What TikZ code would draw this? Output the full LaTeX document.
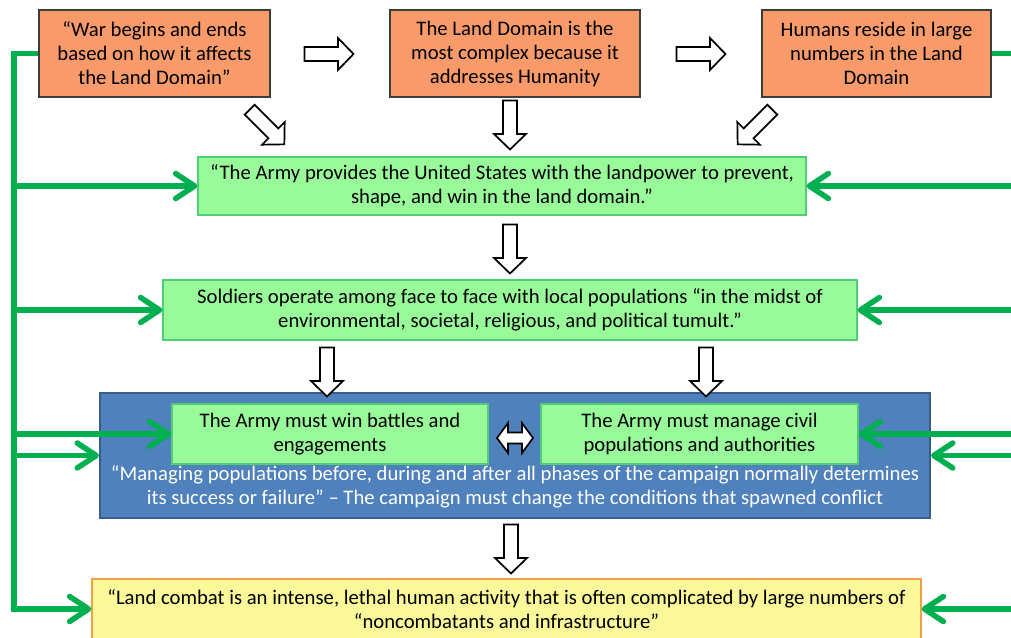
\documentclass[tikz,border=0pt]{standalone}
\usepackage{fontspec}
\setmainfont{Carlito}
\usetikzlibrary{arrows.meta}

\definecolor{orangefill}{RGB}{248,154,106}
\definecolor{orangeline}{RGB}{60,60,60}
\definecolor{greenfill}{RGB}{152,250,152}
\definecolor{greenline}{RGB}{80,205,120}
\definecolor{bluefill}{RGB}{79,129,189}
\definecolor{blueline}{RGB}{56,93,138}
\definecolor{yellowfill}{RGB}{250,248,152}
\definecolor{yellowline}{RGB}{240,160,70}
\definecolor{conngreen}{RGB}{0,176,80}

\tikzset{
  box/.style={rectangle, inner sep=0pt, align=center,
    font=\fontsize{20.7}{24}\selectfont, line width=1.3pt},
  obox/.style={box, fill=orangefill, draw=orangeline, minimum height=87},
  gbox/.style={box, fill=greenfill, draw=greenline},
  conn/.style={draw=conngreen, line width=5.5pt},
  tip/.style={conn, -{Straight Barb[length=19pt,width=25pt,round]}},
  hollow/.style={draw=black, fill=white, line width=1.7pt, line join=miter},
  blockarrow/.pic={
    \draw[hollow] (-24.5,-7) -- (9,-7) -- (9,-16) -- (24.5,0) -- (9,16)
      -- (9,7) -- (-24.5,7) -- cycle;},
  twowayarrow/.pic={
    \draw[hollow] (-18,0) -- (-7,-15) -- (-7,-5.5) -- (7,-5.5) -- (7,-15)
      -- (18,0) -- (7,15) -- (7,5.5) -- (-7,5.5) -- (-7,15) -- cycle;},
}

\begin{document}
\begin{tikzpicture}[x=1pt,y=-1pt]
\useasboundingbox (0,0) rectangle (1011,637);
\clip (0,0) rectangle (1011,637);

% top row: orange statements
\node[obox, minimum width=231] (o1) at (154.5,53.5)
  {“War begins and ends\\based on how it affects\\the Land Domain”};
\node[obox, minimum width=250] (o2) at (515,53.5)
  {The Land Domain is the\\most complex because it\\addresses Humanity};
\node[obox, minimum width=229] (o3) at (876.5,53.5)
  {Humans reside in large\\numbers in the Land\\Domain};

% green statements
\node[gbox, minimum width=608, minimum height=58] (g1) at (502,186)
  {“The Army provides the United States with the landpower to prevent,\\shape, and win in the land domain.”};
\node[gbox, minimum width=694, minimum height=60] (g2) at (510,310)
  {Soldiers operate among face to face with local populations “in the midst of\\environmental, societal, religious, and political tumult.”};

% campaign block
\node[box, fill=bluefill, draw=blueline, line width=2pt,
  minimum width=830, minimum height=125] (blue) at (515,455.5) {};
\node[gbox, minimum width=316, minimum height=60] (gl) at (330,434)
  {The Army must win battles and\\engagements};
\node[gbox, minimum width=317, minimum height=60] (gr) at (699.5,434)
  {The Army must manage civil\\populations and authorities};
\node[box, text=white] (bt) at (515,487)
  {“Managing populations before, during and after all phases of the campaign normally determines\\its success or failure” -- The campaign must change the conditions that spawned conflict};

% bottom statement
\node[box, fill=yellowfill, draw=yellowline, minimum width=829, minimum height=60] (yl) at (506.5,609)
  {“Land combat is an intense, lethal human activity that is often complicated by large numbers of\\“noncombatants and infrastructure”};

% hollow block arrows
\pic at (329,54) {blockarrow};
\pic at (701,54) {blockarrow};
\pic[rotate=-45] at (267,127) {blockarrow};
\pic[rotate=-90] at (510,125) {blockarrow};
\pic[rotate=-135] at (755,127) {blockarrow};
\pic[rotate=-90] at (510,249) {blockarrow};
\pic[rotate=-90] at (327,372) {blockarrow};
\pic[rotate=-90] at (706,372) {blockarrow};
\pic[rotate=-90] at (511,549) {blockarrow};
\pic at (515,438) {twowayarrow};

% green feedback lines
\coordinate (spine) at (14,0);
\coordinate (redge) at (1020,0);
\draw[tip] (o1.west) -| (yl.west -| spine) -- (yl.west);
\draw[tip] (g1.west -| spine) -- (g1.west);
\draw[tip] (g2.west -| spine) -- (g2.west);
\draw[tip] (gl.west -| spine) -- (gl.west);
\draw[tip] (blue.west -| spine) -- (blue.west);

\draw[conn] (o3.east) -- (o3.east -| redge);
\draw[tip] (g1.east -| redge) -- (g1.east);
\draw[tip] (g2.east -| redge) -- (g2.east);
\draw[tip] (gr.east -| redge) -- (gr.east);
\draw[tip] (blue.east -| redge) -- (blue.east);
\draw[tip] (yl.east -| redge) -- (yl.east);
\end{tikzpicture}
\end{document}
